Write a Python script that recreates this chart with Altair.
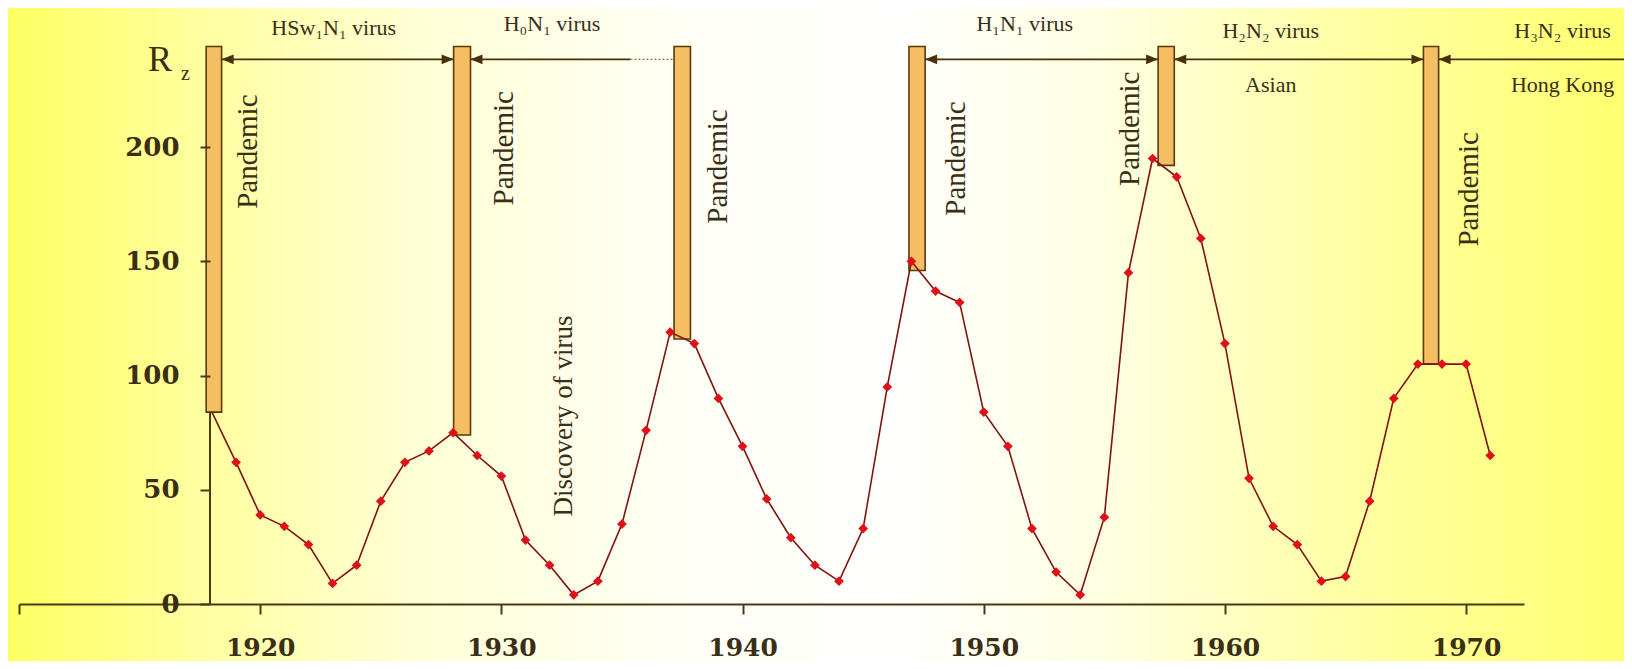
import altair as alt
import pandas as pd

# ---- data ----
years = list(range(1918, 1972))
rz = [84, 62, 39, 34, 26, 9, 17, 45, 62, 67,
      75, 65, 56, 28, 17, 4, 10, 35, 76, 119,
      114, 90, 69, 46, 29, 17, 10, 33, 95, 150,
      137, 132, 84, 69, 33, 14, 4, 38, 145, 195,
      187, 160, 114, 55, 34, 26, 10, 12, 45, 90,
      105, 105, 105, 65]

pandemic_start = [1917.76, 1928.02, 1937.16, 1946.90, 1957.23, 1968.23]
pandemic_end = [1918.40, 1928.72, 1937.84, 1947.57, 1957.90, 1968.86]
pandemic_low = [84, 74, 116, 146, 192, 105]
pandemic_top = 244

axis_year = 1917.92
arrow_level = 238.4
h0n1_solid_end = 1935.35
h3n2_arrow_end = 1976.6

virus_labels = ["HSw\u2081N\u2081 virus", "H\u2080N\u2081 virus", "H\u2081N\u2081 virus",
                "H\u2082N\u2082 virus", "Asian", "H\u2083N\u2082 virus", "Hong Kong"]
virus_x = [1923.05, 1932.1, 1951.7, 1961.9, 1961.9, 1974.0, 1974.0]
virus_y = [252, 254, 254, 251, 227, 251, 227]

pandemic_label_x = [1919.5, 1930.1, 1939.0, 1948.85, 1956.05, 1970.1]
pandemic_label_y = [198, 199.5, 191.5, 195, 208, 181.5]
discovery_x = [1932.6]
discovery_y = [82.3]

x_ticks = [1910, 1920, 1930, 1940, 1950, 1960, 1970]
y_ticks = [0, 50, 100, 150, 200]

# ---- styling ----
W, H = 1505, 594
PAD = {"left": 11, "top": 2, "right": 100, "bottom": 57}
DARK = "#4a3a14"
TEXT = "#3a2e14"
SERIF = "Liberation Serif"

xs = alt.Scale(domain=[1910, 1972.4], nice=False, zero=False)
ys = alt.Scale(domain=[0, 260], nice=False, zero=False)

series = pd.DataFrame({"year": years, "rz": rz})
bars = pd.DataFrame({"x1": pandemic_start, "x2": pandemic_end,
                     "y1": pandemic_low, "y2": [pandemic_top] * len(pandemic_start)})

# arrows between the pandemic bars
segs = pd.DataFrame({
    "x1": [pandemic_end[0], pandemic_end[1], pandemic_end[3], pandemic_end[4], pandemic_end[5]],
    "x2": [pandemic_start[1], h0n1_solid_end, pandemic_start[4], pandemic_start[5], h3n2_arrow_end],
    "y": [arrow_level] * 5,
})
dotted = pd.DataFrame({"x1": [h0n1_solid_end], "x2": [pandemic_start[2]], "y": [arrow_level]})
left_heads = pd.DataFrame({"x": [pandemic_end[0], pandemic_end[1], pandemic_end[3],
                                 pandemic_end[4], pandemic_end[5]],
                           "y": [arrow_level] * 5})
right_heads = pd.DataFrame({"x": [pandemic_start[1], pandemic_start[4], pandemic_start[5]],
                            "y": [arrow_level] * 3})

bg = alt.Chart(pd.DataFrame({"a": [0]})).mark_rect(
    color=alt.Gradient(
        gradient="linear", x1=0, x2=1, y1=0, y2=0,
        stops=[
            alt.GradientStop(color="#FFFF62", offset=0.0),
            alt.GradientStop(color="#FFFFA0", offset=0.12),
            alt.GradientStop(color="#FFFFD8", offset=0.26),
            alt.GradientStop(color="#FFFFF6", offset=0.42),
            alt.GradientStop(color="#FFFFFD", offset=0.55),
            alt.GradientStop(color="#FFFFE2", offset=0.68),
            alt.GradientStop(color="#FFFFA8", offset=0.82),
            alt.GradientStop(color="#FFFF70", offset=1.0),
        ],
    )
).encode(
    x=alt.value(-PAD["left"]), x2=alt.value(W + PAD["right"]),
    y=alt.value(-PAD["top"]), y2=alt.value(H + PAD["bottom"]),
)

base_x = alt.X("year:Q", scale=xs, axis=alt.Axis(
    values=x_ticks, title=None, grid=False, zindex=1,
    labelExpr="datum.value == 1910 ? '' : datum.label",
    labelFont="DejaVu Serif", labelFontWeight="bold", labelFontSize=25,
    labelColor=TEXT, labelPadding=21, tickSize=10, tickWidth=2, tickColor=DARK,
    domainColor=DARK, domainWidth=2, format="d"))
base_y = alt.Y("rz:Q", scale=ys, axis=alt.Axis(
    values=y_ticks, title=None, grid=False, domain=False, zindex=1,
    offset=-(axis_year - 1910) * W / 62.4,
    labelFont="DejaVu Serif", labelFontWeight="bold", labelFontSize=26,
    labelColor=TEXT, labelPadding=21, tickSize=10, tickWidth=2, tickColor=DARK))

line = alt.Chart(series).mark_line(color="#7e1410", strokeWidth=1.6).encode(x=base_x, y=base_y)

points = alt.Chart(series).transform_filter("datum.year > 1918").mark_point(
    shape="diamond", filled=True, color="#e0101a", size=95, opacity=1
).encode(x=alt.X("year:Q", scale=xs), y=alt.Y("rz:Q", scale=ys))

yrule = alt.Chart(pd.DataFrame({"x": [axis_year], "y1": [0], "y2": [pandemic_top]})).mark_rule(
    color=DARK, strokeWidth=2
).encode(x=alt.X("x:Q", scale=xs), y=alt.Y("y1:Q", scale=ys), y2="y2:Q")

bar_layer = alt.Chart(bars).mark_rect(
    fill="#F6BE62", stroke="#5a3808", strokeWidth=1.6
).encode(x=alt.X("x1:Q", scale=xs), x2="x2:Q", y=alt.Y("y1:Q", scale=ys), y2="y2:Q")

seg_layer = alt.Chart(segs).mark_rule(color="#4a3008", strokeWidth=1.6).encode(
    x=alt.X("x1:Q", scale=xs), x2="x2:Q", y=alt.Y("y:Q", scale=ys))
dot_layer = alt.Chart(dotted).mark_rule(color="#8a7a5a", strokeWidth=1.2, strokeDash=[2, 2]).encode(
    x=alt.X("x1:Q", scale=xs), x2="x2:Q", y=alt.Y("y:Q", scale=ys))

lh = alt.Chart(left_heads).mark_point(
    shape="M0,0 L2,-0.8 L2,0.8 Z", filled=True, color="#4a3008", size=144, opacity=1
).encode(x=alt.X("x:Q", scale=xs), y=alt.Y("y:Q", scale=ys))
rh = alt.Chart(right_heads).mark_point(
    shape="M0,0 L-2,-0.8 L-2,0.8 Z", filled=True, color="#4a3008", size=144, opacity=1
).encode(x=alt.X("x:Q", scale=xs), y=alt.Y("y:Q", scale=ys))

vl = alt.Chart(pd.DataFrame({"t": virus_labels, "x": virus_x, "y": virus_y})).mark_text(
    font=SERIF, fontSize=22, color=TEXT, align="center", baseline="middle"
).encode(x=alt.X("x:Q", scale=xs), y=alt.Y("y:Q", scale=ys), text="t:N")

pt = alt.Chart(pd.DataFrame({"x": pandemic_label_x, "y": pandemic_label_y})).mark_text(
    font=SERIF, fontSize=29, color=TEXT, align="center", baseline="middle", angle=270,
    text="Pandemic"
).encode(x=alt.X("x:Q", scale=xs), y=alt.Y("y:Q", scale=ys))

dt = alt.Chart(pd.DataFrame({"x": discovery_x, "y": discovery_y})).mark_text(
    font=SERIF, fontSize=27, color=TEXT, align="center", baseline="middle", angle=270,
    text="Discovery of virus"
).encode(x=alt.X("x:Q", scale=xs), y=alt.Y("y:Q", scale=ys))

r_lab = alt.Chart(pd.DataFrame({"t": ["R"], "x": [1915.85], "y": [238.0]})).mark_text(
    font=SERIF, fontSize=36, color=TEXT, align="center", baseline="middle"
).encode(x=alt.X("x:Q", scale=xs), y=alt.Y("y:Q", scale=ys), text="t:N")
z_lab = alt.Chart(pd.DataFrame({"t": ["z"], "x": [1916.9], "y": [232.0]})).mark_text(
    font=SERIF, fontSize=20, color=TEXT, align="center", baseline="middle"
).encode(x=alt.X("x:Q", scale=xs), y=alt.Y("y:Q", scale=ys), text="t:N")

chart = alt.layer(
    bg, yrule, bar_layer, line, points, seg_layer, dot_layer, lh, rh, vl, pt, dt, r_lab, z_lab
).properties(
    width=W, height=H,
    autosize=alt.AutoSizeParams(type="none"),
    padding=PAD,
).configure_view(stroke=None)

chart.save("out.html", embed_options={"renderer": "svg", "actions": False})
